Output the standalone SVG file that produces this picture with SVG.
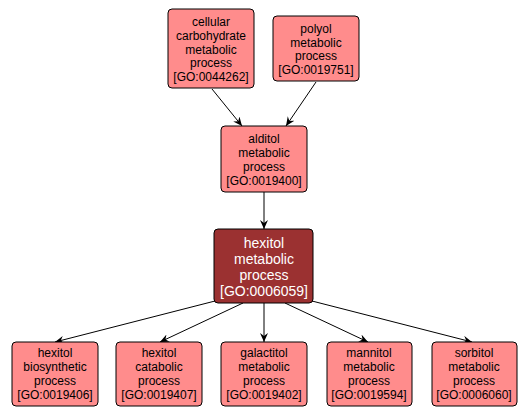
<svg xmlns="http://www.w3.org/2000/svg" width="530" height="416" viewBox="0 0 530 416">
<style>
.n{fill:#ff8c8c;stroke:#000;stroke-width:1}
.m{fill:#9b3131;stroke:#000;stroke-width:1}
.t{font-family:"Liberation Sans",Arial,sans-serif;font-size:12px;text-anchor:middle;fill:#000}
.tw{font-family:"Liberation Sans",Arial,sans-serif;font-size:14px;text-anchor:middle;fill:#fff}
.e{stroke:#000;stroke-width:1;fill:none;marker-end:url(#a)}
</style>
<defs>
<marker id="a" markerWidth="10" markerHeight="10" refX="9" refY="4" orient="auto" markerUnits="userSpaceOnUse">
<path d="M0,0 L9,4 L0,8 L3,4 Z" fill="#000"/>
</marker>
</defs>
<rect width="530" height="416" fill="#fff"/>
<g id="connectors">
<line class="e" x1="212" y1="89" x2="242" y2="126"/>
<line class="e" x1="316" y1="82" x2="286" y2="126"/>
<line class="e" x1="264" y1="192" x2="264" y2="229"/>
<line class="e" x1="215" y1="301" x2="55" y2="342"/>
<line class="e" x1="243" y1="303" x2="160" y2="342"/>
<line class="e" x1="264" y1="303" x2="264" y2="342"/>
<line class="e" x1="285" y1="303" x2="368" y2="342"/>
<line class="e" x1="312" y1="301" x2="472" y2="342"/>
</g>
<g id="n1">
<rect class="n" x="168" y="9" width="86" height="79" rx="4"/>
<text class="t"><tspan x="211" y="26">cellular</tspan><tspan x="211" y="40">carbohydrate</tspan><tspan x="211" y="54">metabolic</tspan><tspan x="211" y="67">process</tspan><tspan x="211" y="81">[GO:0044262]</tspan></text>
</g>
<g id="n2">
<rect class="n" x="273" y="16" width="86" height="65" rx="4"/>
<text class="t"><tspan x="316" y="33">polyol</tspan><tspan x="316" y="47">metabolic</tspan><tspan x="316" y="60">process</tspan><tspan x="316" y="74">[GO:0019751]</tspan></text>
</g>
<g id="n3">
<rect class="n" x="221" y="126" width="86" height="66" rx="4"/>
<text class="t"><tspan x="264" y="143">alditol</tspan><tspan x="264" y="157">metabolic</tspan><tspan x="264" y="171">process</tspan><tspan x="264" y="185">[GO:0019400]</tspan></text>
</g>
<g id="main">
<rect class="m" x="214" y="229" width="99" height="74" rx="4"/>
<text class="tw"><tspan x="264" y="248">hexitol</tspan><tspan x="264" y="264">metabolic</tspan><tspan x="264" y="280">process</tspan><tspan x="264" y="296">[GO:0006059]</tspan></text>
</g>
<g id="b1">
<rect class="n" x="12" y="342" width="86" height="64" rx="4"/>
<text class="t"><tspan x="55" y="357">hexitol</tspan><tspan x="55" y="371">biosynthetic</tspan><tspan x="55" y="385">process</tspan><tspan x="55" y="399">[GO:0019406]</tspan></text>
</g>
<g id="b2">
<rect class="n" x="116" y="342" width="86" height="64" rx="4"/>
<text class="t"><tspan x="159" y="357">hexitol</tspan><tspan x="159" y="371">catabolic</tspan><tspan x="159" y="385">process</tspan><tspan x="159" y="399">[GO:0019407]</tspan></text>
</g>
<g id="b3">
<rect class="n" x="221" y="342" width="86" height="64" rx="4"/>
<text class="t"><tspan x="264" y="357">galactitol</tspan><tspan x="264" y="371">metabolic</tspan><tspan x="264" y="385">process</tspan><tspan x="264" y="399">[GO:0019402]</tspan></text>
</g>
<g id="b4">
<rect class="n" x="327" y="342" width="85" height="64" rx="4"/>
<text class="t"><tspan x="369" y="357">mannitol</tspan><tspan x="369" y="371">metabolic</tspan><tspan x="369" y="385">process</tspan><tspan x="369" y="399">[GO:0019594]</tspan></text>
</g>
<g id="b5">
<rect class="n" x="432" y="342" width="85" height="64" rx="4"/>
<text class="t"><tspan x="474" y="357">sorbitol</tspan><tspan x="474" y="371">metabolic</tspan><tspan x="474" y="385">process</tspan><tspan x="474" y="399">[GO:0006060]</tspan></text>
</g>
</svg>
